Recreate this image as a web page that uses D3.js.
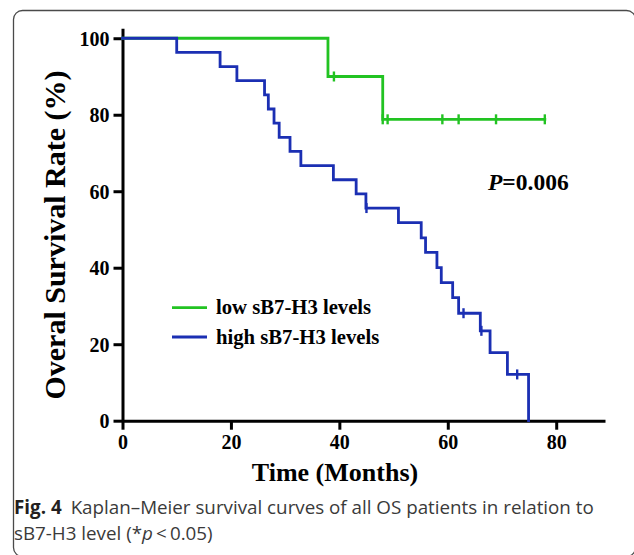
<!DOCTYPE html>
<html>
<head>
<meta charset="utf-8">
<script src="https://cdn.jsdelivr.net/npm/d3@7"></script>
<style>
  html, body { margin: 0; padding: 0; background: #fff; }
  svg { display: block; }
</style>
</head>
<body>
<svg id="chart" width="634" height="555"></svg>
<script>
// ---- data ----
const xTicks = [0, 20, 40, 60, 80];
const yTicks = [0, 20, 40, 60, 80, 100];

const seriesNames = ["low sB7-H3 levels", "high sB7-H3 levels"];

// low sB7-H3: event times (months) and survival (%) after each event
const lowTime = [0, 37.9, 48.0];
const lowSurv = [100, 90.0, 78.8];
const lowEndTime = 77.9;
const lowCensorTime = [39.0, 48.0, 48.9, 59.0, 62.0, 68.9, 77.9];

// high sB7-H3
const highTime = [0, 10.0, 18.0, 21.1, 26.2, 26.9, 27.95, 28.9, 30.9, 32.9, 38.9, 43.1, 44.9,
                  50.9, 55.1, 55.9, 58.0, 58.8, 60.9, 62.0, 66.0, 67.8, 71.0, 74.9];
const highSurv = [100, 96.3, 92.6, 88.9, 85.2, 81.5, 77.8, 74.1, 70.4, 66.7, 63.0, 59.3, 55.6,
                  51.8, 47.8, 44.0, 40.0, 36.1, 32.2, 28.1, 23.5, 17.8, 12.1, 0];
const highEndTime = 74.9;
const highCensorTime = [45.0, 62.9, 66.2, 72.8];

const pValueLabel = "=0.006";

// ---- layout ----
const svg = d3.select("#chart");
const serif = "'Liberation Serif', 'Times New Roman', serif";
const sans = "'Open Sans', 'Noto Sans', sans-serif";
const colors = ["#22c322", "#1b2fb3"];

const x = d3.scaleLinear().domain([0, 89]).range([122.5, 605]);
const y = d3.scaleLinear().domain([0, 102.6]).range([420.7, 28.3]);

// frame
svg.append("rect")
  .attr("x", 13.5).attr("y", 10.5).attr("width", 622).attr("height", 546)
  .attr("rx", 9).attr("fill", "none").attr("stroke", "#4a4a4a").attr("stroke-width", 1.3);

// axes
const xAxis = svg.append("g")
  .attr("transform", `translate(0,${y(0)})`)
  .call(d3.axisBottom(x).tickValues(xTicks).tickSize(9).tickSizeOuter(0).tickPadding(5));
const yAxis = svg.append("g")
  .attr("transform", `translate(${x(0)},0)`)
  .call(d3.axisLeft(y).tickValues(yTicks).tickSize(9).tickSizeOuter(0).tickPadding(4));

[xAxis, yAxis].forEach(g => {
  g.select(".domain").attr("stroke", "#000").attr("stroke-width", 3);
  g.selectAll(".tick line").attr("stroke", "#000").attr("stroke-width", 3);
  g.selectAll(".tick text")
    .attr("fill", "#000")
    .style("font-family", serif)
    .style("font-weight", "bold")
    .style("font-size", "20px");
});
yAxis.selectAll(".tick text").attr("dy", "0.34em");

// axis titles
svg.append("text")
  .attr("x", 335).attr("y", 481)
  .attr("text-anchor", "middle")
  .style("font-family", serif).style("font-weight", "bold").style("font-size", "26px")
  .text("Time (Months)");

svg.append("text")
  .attr("transform", "translate(65,235) rotate(-90)")
  .attr("text-anchor", "middle")
  .style("font-family", serif).style("font-weight", "bold").style("font-size", "30px")
  .text("Overal Survival Rate (%)");

// survival curves
function stepValue(times, surv, t) {
  let v = surv[0];
  for (let i = 0; i < times.length; i++) if (t >= times[i]) v = surv[i];
  return v;
}
const series = [
  { name: seriesNames[0], times: lowTime, surv: lowSurv, end: lowEndTime, censor: lowCensorTime },
  { name: seriesNames[1], times: highTime, surv: highSurv, end: highEndTime, censor: highCensorTime }
];

const line = d3.line().x(d => x(d[0])).y(d => y(d[1])).curve(d3.curveStepAfter);

series.forEach((s, i) => {
  const pts = s.times.map((t, k) => [t, s.surv[k]]);
  pts.push([s.end, s.surv[s.surv.length - 1]]);
  svg.append("path")
    .attr("d", line(pts))
    .attr("fill", "none")
    .attr("stroke", colors[i])
    .attr("stroke-width", 2.8)
    .attr("stroke-linejoin", "miter")
    .attr("stroke-linecap", "square");
  svg.append("g").selectAll("line")
    .data(s.censor)
    .join("line")
    .attr("x1", d => x(d)).attr("x2", d => x(d))
    .attr("y1", d => y(stepValue(s.times, s.surv, d)) - 5)
    .attr("y2", d => y(stepValue(s.times, s.surv, d)) + 5)
    .attr("stroke", colors[i])
    .attr("stroke-width", 2.4);
});

// legend
const legend = svg.append("g");
series.forEach((s, i) => {
  const ly = 307.7 + i * 29.3;
  legend.append("line")
    .attr("x1", 172).attr("x2", 207).attr("y1", ly).attr("y2", ly)
    .attr("stroke", colors[i]).attr("stroke-width", 2.8);
  legend.append("text")
    .attr("x", 216).attr("y", ly + 6.5)
    .style("font-family", serif).style("font-weight", "bold").style("font-size", "20.7px")
    .text(s.name);
});

// p value
const pt = svg.append("text")
  .attr("x", 488).attr("y", 190)
  .style("font-family", serif).style("font-weight", "bold").style("font-size", "23.5px");
pt.append("tspan").style("font-style", "italic").text("P");
pt.append("tspan").text(pValueLabel);

// caption
const cap1 = svg.append("text").attr("x", 14).attr("y", 514)
  .style("font-family", sans).style("font-size", "18.8px");
cap1.append("tspan").attr("font-weight", "bold").attr("fill", "#231f20").text("Fig. 4");
cap1.append("tspan").attr("dx", 9).attr("fill", "#3a3a3a")
  .text("Kaplan–Meier survival curves of all OS patients in relation to");

const cap2 = svg.append("text").attr("x", 14).attr("y", 540)
  .style("font-family", sans).style("font-size", "18.8px").attr("fill", "#3a3a3a");
cap2.append("tspan").text("sB7-H3 level (*");
cap2.append("tspan").style("font-style", "italic").text("p");
cap2.append("tspan").text("\u2009<\u20090.05)");
</script>
</body>
</html>
